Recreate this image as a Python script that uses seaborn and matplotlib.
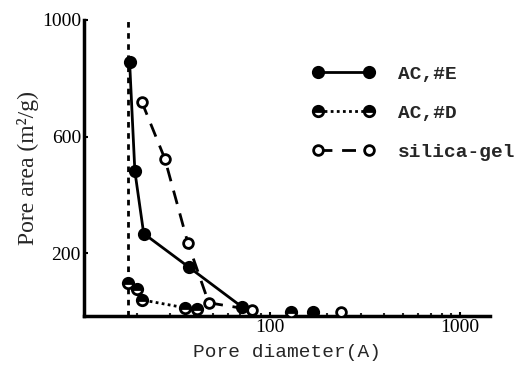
import matplotlib

matplotlib.use("Agg")

import matplotlib.pyplot as plt
import seaborn as sns
from matplotlib.ticker import FixedLocator, LogLocator, NullFormatter

# pore diameter (A) / pore area (m2/g)
e_diam = [18.3, 19.5, 21.7, 37.5, 71.3, 168]
e_area = [854, 481, 268, 153, 17, 0]
d_diam = [17.9, 19.9, 21.2, 35.7, 41.3, 129]
d_area = [98, 78, 41, 14, 10, 0]
s_diam = [21.2, 28.0, 37.0, 47.7, 80.4, 236]
s_area = [719, 525, 237, 31, 7, 0]
cutoff_diam = 17.9

labels = ["AC,#E", "AC,#D", "silica-gel"]
y_ticks = [200, 600, 1000]
x_ticks = [100, 1000]

sns.set_style("ticks")
plt.rcParams["font.family"] = ["Liberation Serif", "DejaVu Sans"]

fig = plt.figure(figsize=(5.17, 3.73), dpi=100)
ax = fig.add_axes([0.162, 0.153, 0.786, 0.794])

styles = [
    (e_diam, e_area, "-", dict(marker="o", markersize=8, markerfacecolor="black", markeredgewidth=1.5)),
    (d_diam, d_area, (0, (1, 1.2)), dict(marker="o", markersize=7.5, fillstyle="top",
                                          markerfacecolor="black", markerfacecoloralt="white",
                                          markeredgewidth=2)),
    (s_diam, s_area, (0, (5, 3.5)), dict(marker="o", markersize=7, markerfacecolor="white",
                                          markeredgewidth=2)),
]

ax.axvline(cutoff_diam, color="black", lw=2, ls=(0, (2, 2)), zorder=1)

for (xs, ys, ls, mk), lab in zip(styles, labels):
    # fitted part of the curve, then the isolated tail point
    sns.lineplot(x=xs[:-1], y=ys[:-1], ax=ax, color="black", lw=2, linestyle=ls,
                 markeredgecolor="black", label=lab, sort=False, zorder=3, **mk)
    sns.lineplot(x=xs[-1:], y=ys[-1:], ax=ax, color="black", linestyle="none",
                 markeredgecolor="black", zorder=3, **mk)

ax.set_xscale("log")
ax.set_xlim(10.5, 1440)
ax.set_ylim(-14, 1000)

ax.yaxis.set_major_locator(FixedLocator(y_ticks))
ax.xaxis.set_major_locator(FixedLocator(x_ticks))
ax.xaxis.set_minor_locator(LogLocator(base=10, subs=range(2, 10)))
ax.xaxis.set_minor_formatter(NullFormatter())
ax.set_xticklabels([str(t) for t in x_ticks])
ax.tick_params(axis="both", which="major", direction="in", length=3, width=1.5,
               labelsize=14, pad=2, colors="black")
ax.tick_params(axis="x", which="minor", direction="in", length=2, width=1.5)

for side in ["top", "right"]:
    ax.spines[side].set_visible(False)
for side in ["left", "bottom"]:
    ax.spines[side].set_linewidth(2.5)
    ax.spines[side].set_color("black")

ax.set_xlabel("Pore diameter(A)", family="Liberation Mono", fontsize=14, labelpad=6)
ax.set_ylabel("Pore area (m²/g)", fontsize=17, labelpad=2)

leg = ax.legend(loc="upper left", bbox_to_anchor=(0.52, 0.905), frameon=False, numpoints=2,
                handlelength=3.2, handletextpad=1.2, labelspacing=1.1,
                prop={"family": "Liberation Mono", "size": 14, "weight": "bold"})

fig.savefig("out.png", dpi=100)
